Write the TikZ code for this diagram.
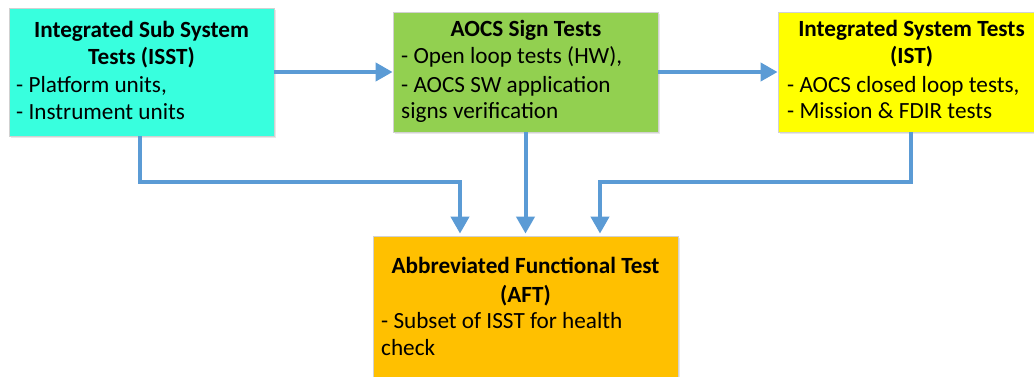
\documentclass[tikz,border=0pt]{standalone}
\usepackage{fontspec}
\setmainfont{Carlito}
\usetikzlibrary{arrows.meta,shadows}
\definecolor{isstc}{HTML}{38FFDE}
\definecolor{aocsc}{HTML}{92D050}
\definecolor{istc}{HTML}{FFFF00}
\definecolor{aftc}{HTML}{FFC000}
\definecolor{linkblue}{HTML}{5B9BD5}
\tikzset{
  box/.style={draw=black!18, line width=0.8pt, minimum width=265pt, inner sep=0pt,
    drop shadow={opacity=0.18, shadow xshift=1.5pt, shadow yshift=-1.5pt}},
  ttl/.style={font=\fontsize{23.2}{28}\selectfont\bfseries, anchor=base, inner sep=0pt},
  txt/.style={font=\fontsize{23.2}{28}\selectfont, anchor=base west, inner sep=0pt},
  link/.style={draw=linkblue, line width=4pt, -{Triangle[width=18pt,length=17pt]}}
}
\begin{document}
\begin{tikzpicture}[x=1pt,y=-1pt]
\useasboundingbox (0,0) rectangle (1034,376);
% boxes
\node[box, fill=isstc, minimum height=128pt] (isst) at (141.5,72) {};
\node[box, fill=aocsc, minimum height=120pt] (aocs) at (525.5,72) {};
\node[box, fill=istc, minimum height=120pt] (ist) at (910.5,72) {};
\node[box, fill=aftc, minimum width=305pt, minimum height=150pt] (aft) at (525.5,311) {};
% ISST text
\node[ttl] (t1a) at (141.5,37) {Integrated Sub System};
\node[ttl] (t1b) at (141.5,64) {Tests (ISST)};
\node[txt] (t1c) at (16,92) {- Platform units,};
\node[txt] (t1d) at (16,119) {- Instrument units};
% AOCS text
\node[ttl] (t2a) at (526,36) {AOCS Sign Tests};
\node[txt] (t2b) at (401,63) {- Open loop tests (HW),};
\node[txt] (t2c) at (401,92) {- AOCS SW application};
\node[txt] (t2d) at (401,118) {signs verification};
% IST text
\node[ttl] (t3a) at (911.5,36) {Integrated System Tests};
\node[ttl] (t3b) at (911.5,63) {(IST)};
\node[txt] (t3c) at (787,92) {- AOCS closed loop tests,};
\node[txt] (t3d) at (787,118) {- Mission \& FDIR tests};
% AFT text
\node[ttl] (t4a) at (525.5,273) {Abbreviated Functional Test};
\node[ttl] (t4b) at (525.5,302) {(AFT)};
\node[txt] (t4c) at (381,328) {- Subset of ISST for health};
\node[txt] (t4d) at (381,355) {check};
% connectors
\draw[link] (isst.east) -- (aocs.west);
\draw[link] (aocs.east) -- (ist.west);
\draw[link, shorten >=2pt] ([xshift=-1.5pt]isst.south) -- ++(0,46) -| ([xshift=-65.5pt]aft.north);
\draw[link, shorten >=2pt] (aocs.south) -- (aft.north);
\draw[link, shorten >=2pt] (ist.south) -- ++(0,50) -| ([xshift=74.5pt]aft.north);
\end{tikzpicture}
\end{document}
